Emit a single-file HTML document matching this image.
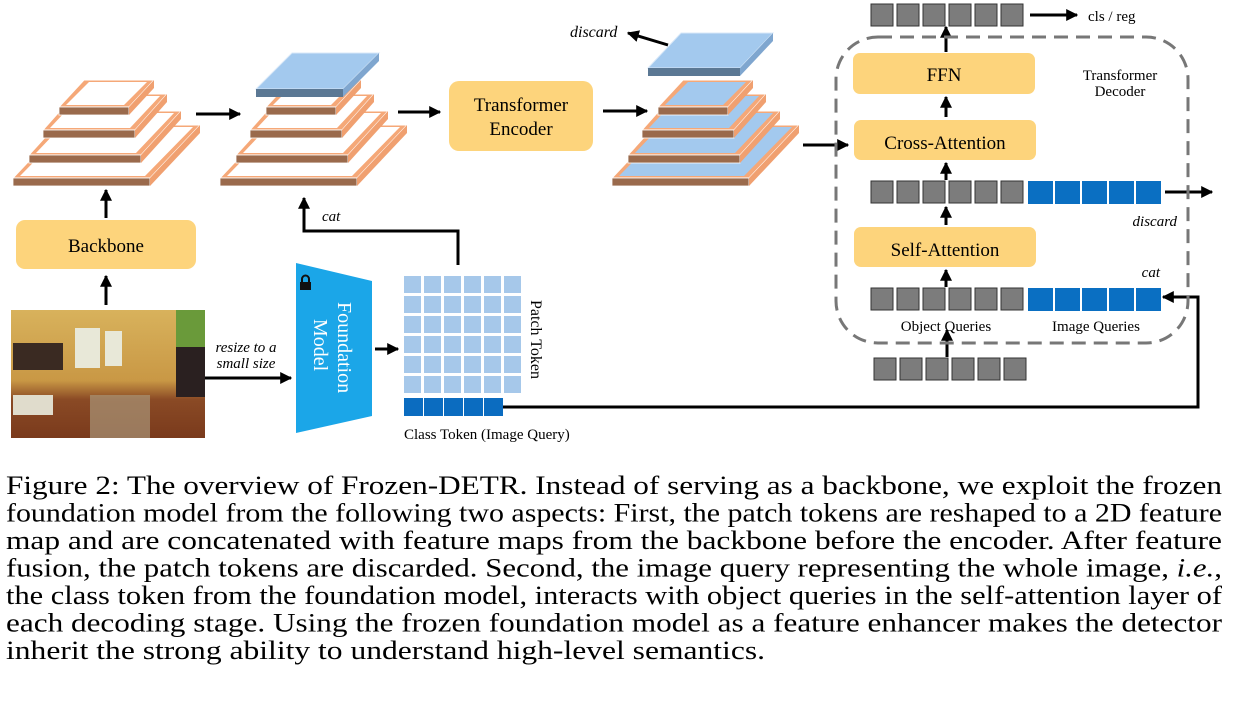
<!DOCTYPE html>
<html><head><meta charset="utf-8"><style>
html,body{margin:0;padding:0;background:#fff;}
svg{display:block;}
.s{font-family:"Liberation Serif",serif;}
</style></head><body>
<svg id="g" width="1235" height="705" viewBox="0 0 1235 705" xmlns="http://www.w3.org/2000/svg">
<defs>
<marker id="ah" viewBox="0 0 10 10" refX="9" refY="5" markerWidth="4" markerHeight="4" orient="auto"><path d="M0,0 L10,5 L0,10 z" fill="#000"/></marker>
<linearGradient id="room" x1="0" y1="0" x2="0" y2="1"><stop offset="0" stop-color="#d8b25c"/><stop offset="0.55" stop-color="#c99845"/><stop offset="0.7" stop-color="#8a4a25"/><stop offset="1" stop-color="#7a3a1c"/></linearGradient>
</defs>
<g id="pyr"></g>

<g stroke="#000" stroke-width="3" fill="none" marker-end="url(#ah)">
<line x1="196" y1="114" x2="240" y2="114"/>
<line x1="398" y1="112" x2="440" y2="112"/>
<line x1="603" y1="111" x2="647" y2="111"/>
<line x1="803" y1="145" x2="848" y2="145"/>
<line x1="668" y1="45" x2="628" y2="33"/>
<line x1="106" y1="218" x2="106" y2="190"/>
<line x1="106" y1="305" x2="106" y2="276"/>
<line x1="205" y1="378" x2="291" y2="378"/>
<line x1="375" y1="349" x2="398" y2="349"/>
<polyline points="458,265 458,231 304,231 304,198"/>
<polyline points="503,407 1198,407 1198,297 1163,297"/>
<line x1="1030" y1="15" x2="1077" y2="15"/>
<line x1="1165" y1="192" x2="1212" y2="192"/>
<line x1="946" y1="52" x2="946" y2="27"/>
<line x1="946" y1="117" x2="946" y2="97"/>
<line x1="946" y1="180" x2="946" y2="163"/>
<line x1="946" y1="225" x2="946" y2="207"/>
<line x1="946" y1="287" x2="946" y2="270"/>
<line x1="947" y1="357" x2="947" y2="330"/>
</g>
<text x="570" y="37" class="s" font-size="16" font-style="italic">discard</text>

<rect x="449" y="81" width="144" height="70" rx="10" fill="#fdd47c"/>
<text x="521" y="111" class="s" font-size="19" text-anchor="middle">Transformer</text>
<text x="521" y="135" class="s" font-size="19" text-anchor="middle">Encoder</text>
<rect x="16" y="220" width="180" height="49" rx="9" fill="#fdd47c"/>
<text x="106" y="252" class="s" font-size="19" text-anchor="middle">Backbone</text>

<rect x="11" y="310" width="194" height="128" fill="url(#room)"/>
<rect x="13" y="343" width="50" height="27" fill="#3a2a22"/>
<rect x="75" y="328" width="25" height="40" fill="#e8e8d8"/>
<rect x="105" y="331" width="17" height="35" fill="#e8e8d8"/>
<rect x="176" y="310" width="29" height="37" fill="#6a9a3a"/>
<rect x="176" y="347" width="29" height="50" fill="#2a2020"/>
<rect x="13" y="395" width="40" height="20" fill="#e0dccc"/>
<rect x="90" y="395" width="60" height="43" fill="#a89478" opacity="0.7"/>
<text x="246" y="352" class="s" font-size="15" font-style="italic" text-anchor="middle">resize to a</text>
<text x="246" y="368" class="s" font-size="15" font-style="italic" text-anchor="middle">small size</text>

<polygon points="296,263 372,281 372,416 296,433" fill="#1ba6e8"/>
<rect x="300" y="282" width="11" height="8" fill="#111"/>
<path d="M302,282 v-3 a3.5,3.5 0 0 1 7,0 v3" stroke="#111" stroke-width="2" fill="none"/>
<text transform="translate(336,302) rotate(90)" class="s" font-size="20" fill="#fff" text-anchor="start"><tspan x="0" y="-2">Foundation</tspan><tspan x="17" y="22">Model</tspan></text>

<g id="patch"></g>
<text transform="translate(531,300) rotate(90)" class="s" font-size="16">Patch Token</text>
<text x="404" y="439" class="s" font-size="15">Class Token (Image Query)</text>
<text x="322" y="221" class="s" font-size="15" font-style="italic">cat</text>

<rect x="836" y="37" width="352" height="306" rx="42" fill="none" stroke="#777" stroke-width="3" stroke-dasharray="14,8"/>
<rect x="853" y="53" width="182" height="41" rx="7" fill="#fdd47c"/>
<text x="944" y="81" class="s" font-size="19" text-anchor="middle">FFN</text>
<rect x="854" y="120" width="182" height="40" rx="7" fill="#fdd47c"/>
<text x="945" y="149" class="s" font-size="19" text-anchor="middle">Cross-Attention</text>
<rect x="854" y="227" width="182" height="40" rx="7" fill="#fdd47c"/>
<text x="945" y="256" class="s" font-size="19" text-anchor="middle">Self-Attention</text>
<text x="1120" y="80" class="s" font-size="15" text-anchor="middle">Transformer</text>
<text x="1120" y="96" class="s" font-size="15" text-anchor="middle">Decoder</text>
<text x="1088" y="21" class="s" font-size="15">cls / reg</text>
<text x="1177" y="226" class="s" font-size="15" font-style="italic" text-anchor="end">discard</text>
<text x="1160" y="277" class="s" font-size="15" font-style="italic" text-anchor="end">cat</text>
<text x="946" y="331" class="s" font-size="15" text-anchor="middle">Object Queries</text>
<text x="1096" y="331" class="s" font-size="15" text-anchor="middle">Image Queries</text>
<g id="sq"></g>

<g class="s" font-size="26" fill="#000">
<text x="6" y="494" textLength="1216" lengthAdjust="spacingAndGlyphs">Figure 2: The overview of Frozen-DETR. Instead of serving as a backbone, we exploit the frozen</text>
<text x="6" y="521.5" textLength="1216" lengthAdjust="spacingAndGlyphs">foundation model from the following two aspects: First, the patch tokens are reshaped to a 2D feature</text>
<text x="6" y="549" textLength="1216" lengthAdjust="spacingAndGlyphs">map and are concatenated with feature maps from the backbone before the encoder. After feature</text>
<text x="6" y="576.5" textLength="1216" lengthAdjust="spacingAndGlyphs">fusion, the patch tokens are discarded. Second, the image query representing the whole image, <tspan font-style="italic">i.e.</tspan>,</text>
<text x="6" y="604" textLength="1216" lengthAdjust="spacingAndGlyphs">the class token from the foundation model, interacts with object queries in the self-attention layer of</text>
<text x="6" y="631.5" textLength="1216" lengthAdjust="spacingAndGlyphs">each decoding stage. Using the frozen foundation model as a feature enhancer makes the detector</text>
<text x="6" y="659" textLength="759" lengthAdjust="spacingAndGlyphs">inherit the strong ability to understand high-level semantics.</text>
</g>
</svg>
<script>
var NS="http://www.w3.org/2000/svg";
function el(p,t,a){var e=document.createElementNS(NS,t);for(var k in a)e.setAttribute(k,a[k]);p.appendChild(e);return e;}
var P=document.getElementById("pyr");
var L=[[59,70,115,27,25],[43,92,138,36,32],[29,112,163,44,40],[13,137,186,53,50]];
function layer(x,w,yb,dy,dx,inner,plate){
  var t=8,y=yb-t;
  if(plate){
    el(P,"polygon",{points:[x,y,x+w,y,x+w+dx,y-dy,x+dx,y-dy].join(","),fill:"#a3c9ee",stroke:"#d8e8f8","stroke-width":1});
    el(P,"rect",{x:x,y:y,width:w,height:t,fill:"#5b7894"});
    el(P,"polygon",{points:[x+w,y,x+w+dx,y-dy,x+w+dx,y-dy+t,x+w,yb].join(","),fill:"#7fa6cf"});
    return;
  }
  el(P,"polygon",{points:[x,y,x+w,y,x+w+dx,y-dy,x+dx,y-dy].join(","),fill:"#f5a878",stroke:"#fff","stroke-width":1});
  var b=5;
  el(P,"polygon",{points:[x+b+2,y-2,x+w-b,y-2,x+w+dx-b-2,y-dy+2,x+dx+b,y-dy+2].join(","),fill:inner});
  el(P,"rect",{x:x,y:y,width:w,height:t,fill:"#9a6a4c",stroke:"#fff","stroke-width":0.8});
  el(P,"polygon",{points:[x+w,y,x+w+dx,y-dy,x+w+dx,y-dy+t,x+w,yb].join(","),fill:"#f0a070"});
}
[[0,"#fff"],[207,"#fff"],[599,"#a3c9ee"]].forEach(function(o){
  for(var i=L.length-1;i>=0;i--){var l=L[i];layer(l[0]+o[0],l[1],l[2],l[3],l[4],o[1],false);}
});
layer(256,87,97,36,36,null,true);
layer(648,92,76,35,33,null,true);
var PT=document.getElementById("patch");
for(var r=0;r<6;r++)for(var c=0;c<6;c++)el(PT,"rect",{x:404+c*20,y:276+r*20,width:17,height:17,fill:"#a6c8ea"});
for(var c=0;c<5;c++)el(PT,"rect",{x:404+c*20,y:398,width:19,height:18,fill:"#0b6cc0"});
var S=document.getElementById("sq");
function grays(x,y){for(var i=0;i<6;i++)el(S,"rect",{x:x+i*26,y:y,width:22,height:22,fill:"#7c7c7c",stroke:"#333","stroke-width":1});}
function blues(x,y){for(var i=0;i<5;i++)el(S,"rect",{x:x+i*27,y:y,width:25,height:23,fill:"#0a6fc2"});}
grays(871,4);grays(871,181);grays(871,288);grays(874,358);
blues(1028,181);blues(1028,288);
</script>
</body></html>
